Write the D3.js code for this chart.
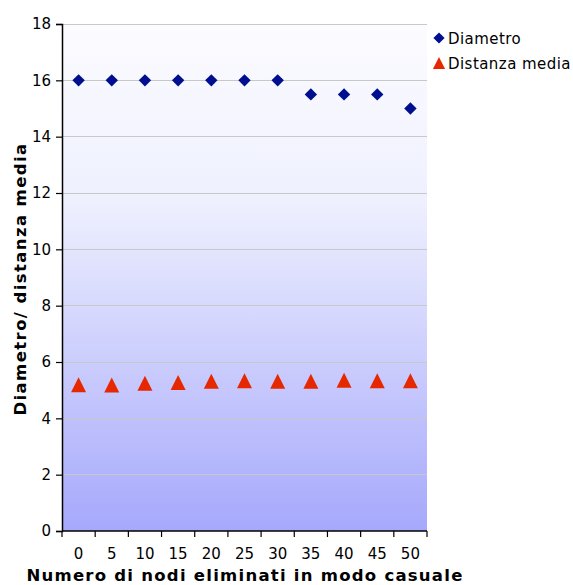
<!DOCTYPE html>
<html>
<head>
<meta charset="utf-8">
<script src="https://cdn.jsdelivr.net/npm/d3@7"></script>
<style>
  html, body { margin: 0; padding: 0; background: #fff; }
  svg { display: block; }
  text { font-family: "DejaVu Sans", Verdana, sans-serif; }
</style>
</head>
<body>
<svg id="chart" width="573" height="585"></svg>
<script>
// Nodes removed at random (category labels)
const categories = ["0", "5", "10", "15", "20", "25", "30", "35", "40", "45", "50"];
// Network diameter after each removal step
const diametro = [16, 16, 16, 16, 16, 16, 16, 15.5, 15.5, 15.5, 15];
// Average distance after each removal step
const distanzaMedia = [5.19, 5.18, 5.25, 5.27, 5.32, 5.33, 5.32, 5.32, 5.35, 5.33, 5.33];
const yTicks = [0, 2, 4, 6, 8, 10, 12, 14, 16, 18];
const seriesNames = ["Diametro", "Distanza media"];

const svg = d3.select("#chart");
const plot = { left: 62, right: 427, top: 24, bottom: 531 };

const x = d3.scaleBand().domain(categories).range([plot.left, plot.right]).paddingInner(0).paddingOuter(0);
const y = d3.scaleLinear().domain([0, 18]).range([plot.bottom, plot.top]);

// Background gradient of the plot area
const defs = svg.append("defs");
const grad = defs.append("linearGradient").attr("id", "bg").attr("x1", 0).attr("y1", 0).attr("x2", 0).attr("y2", 1);
grad.append("stop").attr("offset", "0%").attr("stop-color", "#fcfcff");
grad.append("stop").attr("offset", "35%").attr("stop-color", "#eef0fe");
grad.append("stop").attr("offset", "100%").attr("stop-color", "#a6a8fc");

svg.append("rect")
  .attr("x", plot.left).attr("y", plot.top)
  .attr("width", plot.right - plot.left).attr("height", plot.bottom - plot.top)
  .attr("fill", "url(#bg)");

// Horizontal gridlines
svg.append("g").selectAll("line").data(yTicks.filter(d => d > 0)).join("line")
  .attr("x1", plot.left).attr("x2", plot.right)
  .attr("y1", d => y(d)).attr("y2", d => y(d))
  .attr("stroke", "#c8c8c8").attr("stroke-width", 1)
  .attr("shape-rendering", "crispEdges");

// Y axis
const yAxis = svg.append("g")
  .attr("transform", `translate(${plot.left},0)`)
  .call(d3.axisLeft(y).tickValues(yTicks).tickSize(6).tickPadding(5).tickFormat(d3.format("d")));
yAxis.select(".domain").attr("stroke", "#000").attr("stroke-width", 1.5);
yAxis.selectAll(".tick line").attr("stroke", "#000").attr("stroke-width", 1.2);
yAxis.selectAll(".tick text").attr("font-size", 15).attr("fill", "#000")
  .attr("font-family", "DejaVu Sans, Verdana, sans-serif");

// X axis: ticks on category boundaries, labels centred below each category
const boundaries = categories.map(c => x(c)).concat([plot.right]);
const xg = svg.append("g");
xg.append("line")
  .attr("x1", plot.left).attr("x2", plot.right)
  .attr("y1", plot.bottom).attr("y2", plot.bottom)
  .attr("stroke", "#000").attr("stroke-width", 1.5);
xg.selectAll("line.tk").data(boundaries).join("line").attr("class", "tk")
  .attr("x1", d => d).attr("x2", d => d)
  .attr("y1", plot.bottom).attr("y2", plot.bottom + 6)
  .attr("stroke", "#000").attr("stroke-width", 1.2);
xg.selectAll("text").data(categories).join("text")
  .attr("x", d => x(d) + x.bandwidth() / 2)
  .attr("y", 559)
  .attr("text-anchor", "middle")
  .attr("font-size", 15)
  .text(d => d);

// Axis titles
svg.append("text")
  .attr("x", 245).attr("y", 581)
  .attr("text-anchor", "middle")
  .attr("font-size", 16.5).attr("font-weight", "bold")
  .attr("letter-spacing", 1.25)
  .text("Numero di nodi eliminati in modo casuale");

svg.append("text")
  .attr("transform", "translate(26,279) rotate(-90)")
  .attr("text-anchor", "middle")
  .attr("font-size", 16.5).attr("font-weight", "bold")
  .attr("letter-spacing", 1.4)
  .text("Diametro/ distanza media");

// Isosceles triangle marker (width equals height)
const isoTriangle = {
  draw(ctx, size) {
    const h = Math.sqrt(size);
    ctx.moveTo(0, -h / 2);
    ctx.lineTo(h / 2, h / 2);
    ctx.lineTo(-h / 2, h / 2);
    ctx.closePath();
  }
};

// Markers
const diamond = d3.symbol().type(d3.symbolDiamond2).size(98);
const triangle = d3.symbol().type(isoTriangle).size(225);

svg.append("g").selectAll("path").data(diametro).join("path")
  .attr("d", diamond)
  .attr("transform", (d, i) => `translate(${x(categories[i]) + x.bandwidth() / 2},${y(d)})`)
  .attr("fill", "#000f8f");

svg.append("g").selectAll("path").data(distanzaMedia).join("path")
  .attr("d", triangle)
  .attr("transform", (d, i) => `translate(${x(categories[i]) + x.bandwidth() / 2},${y(d)})`)
  .attr("fill", "#e62800");

// Legend
const legend = svg.append("g");
legend.append("path")
  .attr("d", d3.symbol().type(d3.symbolDiamond2).size(80))
  .attr("transform", "translate(439,38)")
  .attr("fill", "#000f8f");
legend.append("path")
  .attr("d", d3.symbol().type(isoTriangle).size(150))
  .attr("transform", "translate(439,63)")
  .attr("fill", "#e62800");
legend.selectAll("text").data(seriesNames).join("text")
  .attr("x", 448)
  .attr("y", (d, i) => 44 + i * 24.5)
  .attr("font-size", 15)
  .attr("letter-spacing", 0.45)
  .text(d => d);
</script>
</body>
</html>
